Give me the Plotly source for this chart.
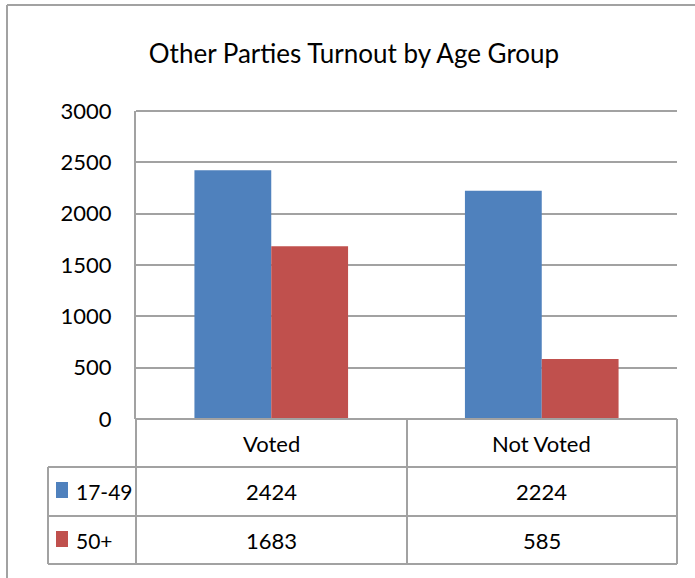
import plotly.graph_objects as go

# ---- data ----
categories = ["Voted", "Not Voted"]
series_names = ["17-49", "50+"]
values_17_49 = [2424, 2224]
values_50_plus = [1683, 585]
title_text = "Other Parties Turnout by Age Group"
y_ticks = [0, 500, 1000, 1500, 2000, 2500, 3000]

# ---- styling ----
W, H = 695, 578
COLORS = ["#4F81BD", "#C0504D"]
GRID = "#a2a2a2"
FONT = "Lato, sans-serif"
FS = 22


def px(x):
    return x / W


def py(y):
    return 1 - y / H


PL, PR, PT, PB = 136, 677, 111, 419  # plot area (pixels)
ROW1, ROW2, ROW3 = 467, 516, 564      # table lines
TL = 48                               # table left edge
MID = 407                             # column divider

series_values = [values_17_49, values_50_plus]

fig = go.Figure()
for name, vals, col in zip(series_names, series_values, COLORS):
    fig.add_trace(go.Bar(x=categories, y=vals, name=name, marker=dict(color=col, line=dict(width=0))))

shapes = []
line = dict(color=GRID, width=2)
# outer frame (left and top)
shapes.append(dict(type="line", xref="paper", yref="paper", x0=px(7), x1=px(7), y0=py(5), y1=0, line=line))
shapes.append(dict(type="line", xref="paper", yref="paper", x0=px(7), x1=1, y0=py(5), y1=py(5), line=line))
# top gridline of plot area
shapes.append(dict(type="line", xref="paper", yref="paper", x0=px(PL), x1=px(PR), y0=py(PT), y1=py(PT), line=line))
# table grid
for yy, x0 in [(PB, PL), (ROW1, TL), (ROW2, TL), (ROW3, TL)]:
    shapes.append(dict(type="line", xref="paper", yref="paper", x0=px(x0), x1=px(PR), y0=py(yy), y1=py(yy), line=line))
for xx, y0 in [(PL, PB), (MID, PB), (PR, PB), (TL, ROW1)]:
    shapes.append(dict(type="line", xref="paper", yref="paper", x0=px(xx), x1=px(xx), y0=py(y0), y1=py(ROW3), line=line))
# legend keys
for i, col in enumerate(COLORS):
    top = [482, 531][i]
    shapes.append(dict(type="rect", xref="paper", yref="paper", x0=px(56), x1=px(68), y0=py(top), y1=py(top + 16),
                       fillcolor=col, line=dict(width=0)))

annotations = []
row_centers = [(PB + ROW1) / 2, (ROW1 + ROW2) / 2, (ROW2 + ROW3) / 2]
for c in categories:
    annotations.append(dict(x=c, xref="x", y=py(row_centers[0]), yref="paper", text=c, showarrow=False,
                            xanchor="center", yanchor="middle", font=dict(size=FS)))
for r, (name, vals) in enumerate(zip(series_names, series_values)):
    yc = py(row_centers[r + 1])
    annotations.append(dict(x=px(74), xref="paper", y=yc, yref="paper", text=name, showarrow=False,
                            xanchor="left", yanchor="middle", font=dict(size=21)))
    for c, v in zip(categories, vals):
        annotations.append(dict(x=c, xref="x", y=yc, yref="paper", text=str(v), showarrow=False,
                                xanchor="center", yanchor="middle", font=dict(size=FS)))

fig.update_layout(
    width=W, height=H,
    margin=dict(l=0, r=0, t=0, b=0, pad=0, autoexpand=False),
    paper_bgcolor="white", plot_bgcolor="white",
    font=dict(family=FONT, size=FS, color="#000000"),
    title=dict(text=title_text, x=px(354), xanchor="center", y=py(54), yanchor="middle",
               font=dict(size=26, family=FONT, color="#000000")),
    barmode="group", bargap=0.432, bargroupgap=0,
    showlegend=False,
    shapes=shapes,
    annotations=annotations,
    xaxis=dict(domain=[px(PL), px(PR)], showticklabels=False, showgrid=False, zeroline=False,
               showline=False, ticks="", automargin=False),
    yaxis=dict(domain=[py(PB), py(PT)], range=[0, 3000], tickvals=y_ticks, showgrid=True, gridcolor=GRID,
               gridwidth=2, zeroline=False, showline=True, linecolor=GRID, linewidth=2, ticks="",
               ticklabelstandoff=18, tickfont=dict(size=FS), automargin=False),
)

fig.write_html("out.html", config={"displayModeBar": False},
               post_script="document.body.style.margin='0';")
